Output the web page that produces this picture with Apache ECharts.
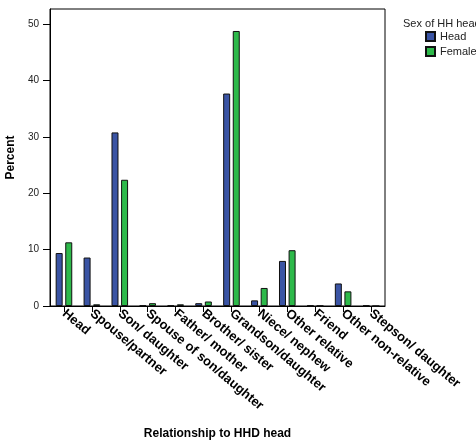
<!DOCTYPE html>
<html><head><meta charset="utf-8">
<script src="https://cdn.jsdelivr.net/npm/echarts@6/dist/echarts.min.js"></script>
<style>html,body{margin:0;padding:0;background:#fff}#c{width:476px;height:441px}</style>
</head><body><div id="c"></div>
<script>
const categories = ["Head","Spouse/partner","Son/ daughter","Spouse of son/daughter","Father/ mother","Brother/ sister","Grandson/daughter","Niece/ nephew","Other relative","Friend","Other non-relative","Stepson/ daughter"];
const headValues = [9.4, 8.6, 30.8, 0.1, 0.1, 0.5, 37.7, 1.0, 8.0, 0.1, 4.0, 0.1];
const femaleValues = [11.3, 0.3, 22.4, 0.5, 0.3, 0.8, 48.8, 3.2, 9.9, 0.05, 2.6, 0];
const yTicks = [0, 10, 20, 30, 40, 50];

const chart = echarts.init(document.getElementById('c'));
const font = 'Liberation Sans, Arial, sans-serif';
chart.setOption({
  animation: false,
  title: {text: 'Sex of HH head', left: 398, top: 13, textStyle: {fontSize: 11, fontWeight: 'normal', color: '#222', fontFamily: font}},
  legend: {orient: 'vertical', left: 420, top: 26, itemWidth: 9, itemHeight: 9, itemGap: 4,
    textStyle: {fontSize: 11, color: '#222', fontFamily: font},
    data: [{name: 'Head', icon: 'rect'}, {name: 'Female', icon: 'rect'}]},
  grid: {left: 50, right: 91, top: 9, bottom: 135, show: true, borderColor: '#000', borderWidth: 1,
    containLabel: false, outerBoundsMode: 'none'},
  xAxis: {type: 'category', data: categories, name: 'Relationship to HHD head', nameLocation: 'middle', nameGap: 122,
    nameTextStyle: {fontSize: 12, fontWeight: 'bold', color: '#000', fontFamily: font},
    axisLine: {show: true, lineStyle: {color: '#000', width: 1}},
    axisTick: {show: true, alignWithLabel: true, length: 6, lineStyle: {color: '#000', width: 1}},
    axisLabel: {rotate: -40, fontSize: 13, fontWeight: 'bold', color: '#000', margin: 6, interval: 0, fontFamily: font}},
  yAxis: {type: 'value', min: 0, max: 52.7, interval: 10, name: 'Percent', nameLocation: 'middle', nameGap: 27,
    nameTextStyle: {fontSize: 12, fontWeight: 'bold', color: '#000', fontFamily: font},
    axisLine: {show: true, onZero: false, lineStyle: {color: '#000', width: 1}},
    axisTick: {show: true, length: 7, lineStyle: {color: '#000', width: 1}},
    splitLine: {show: false},
    axisLabel: {fontSize: 10, color: '#222', margin: 11, fontFamily: font, showMaxLabel: false,
      formatter: v => yTicks.includes(v) ? String(v) : ''}},
  series: [
    {name: 'Head', type: 'bar', data: headValues, barWidth: 7, barGap: '37%',
      itemStyle: {color: '#3a54a4', borderColor: '#111', borderWidth: 1}},
    {name: 'Female', type: 'bar', data: femaleValues, barWidth: 7,
      itemStyle: {color: '#2db94a', borderColor: '#111', borderWidth: 1}}
  ]
});
</script></body></html>
